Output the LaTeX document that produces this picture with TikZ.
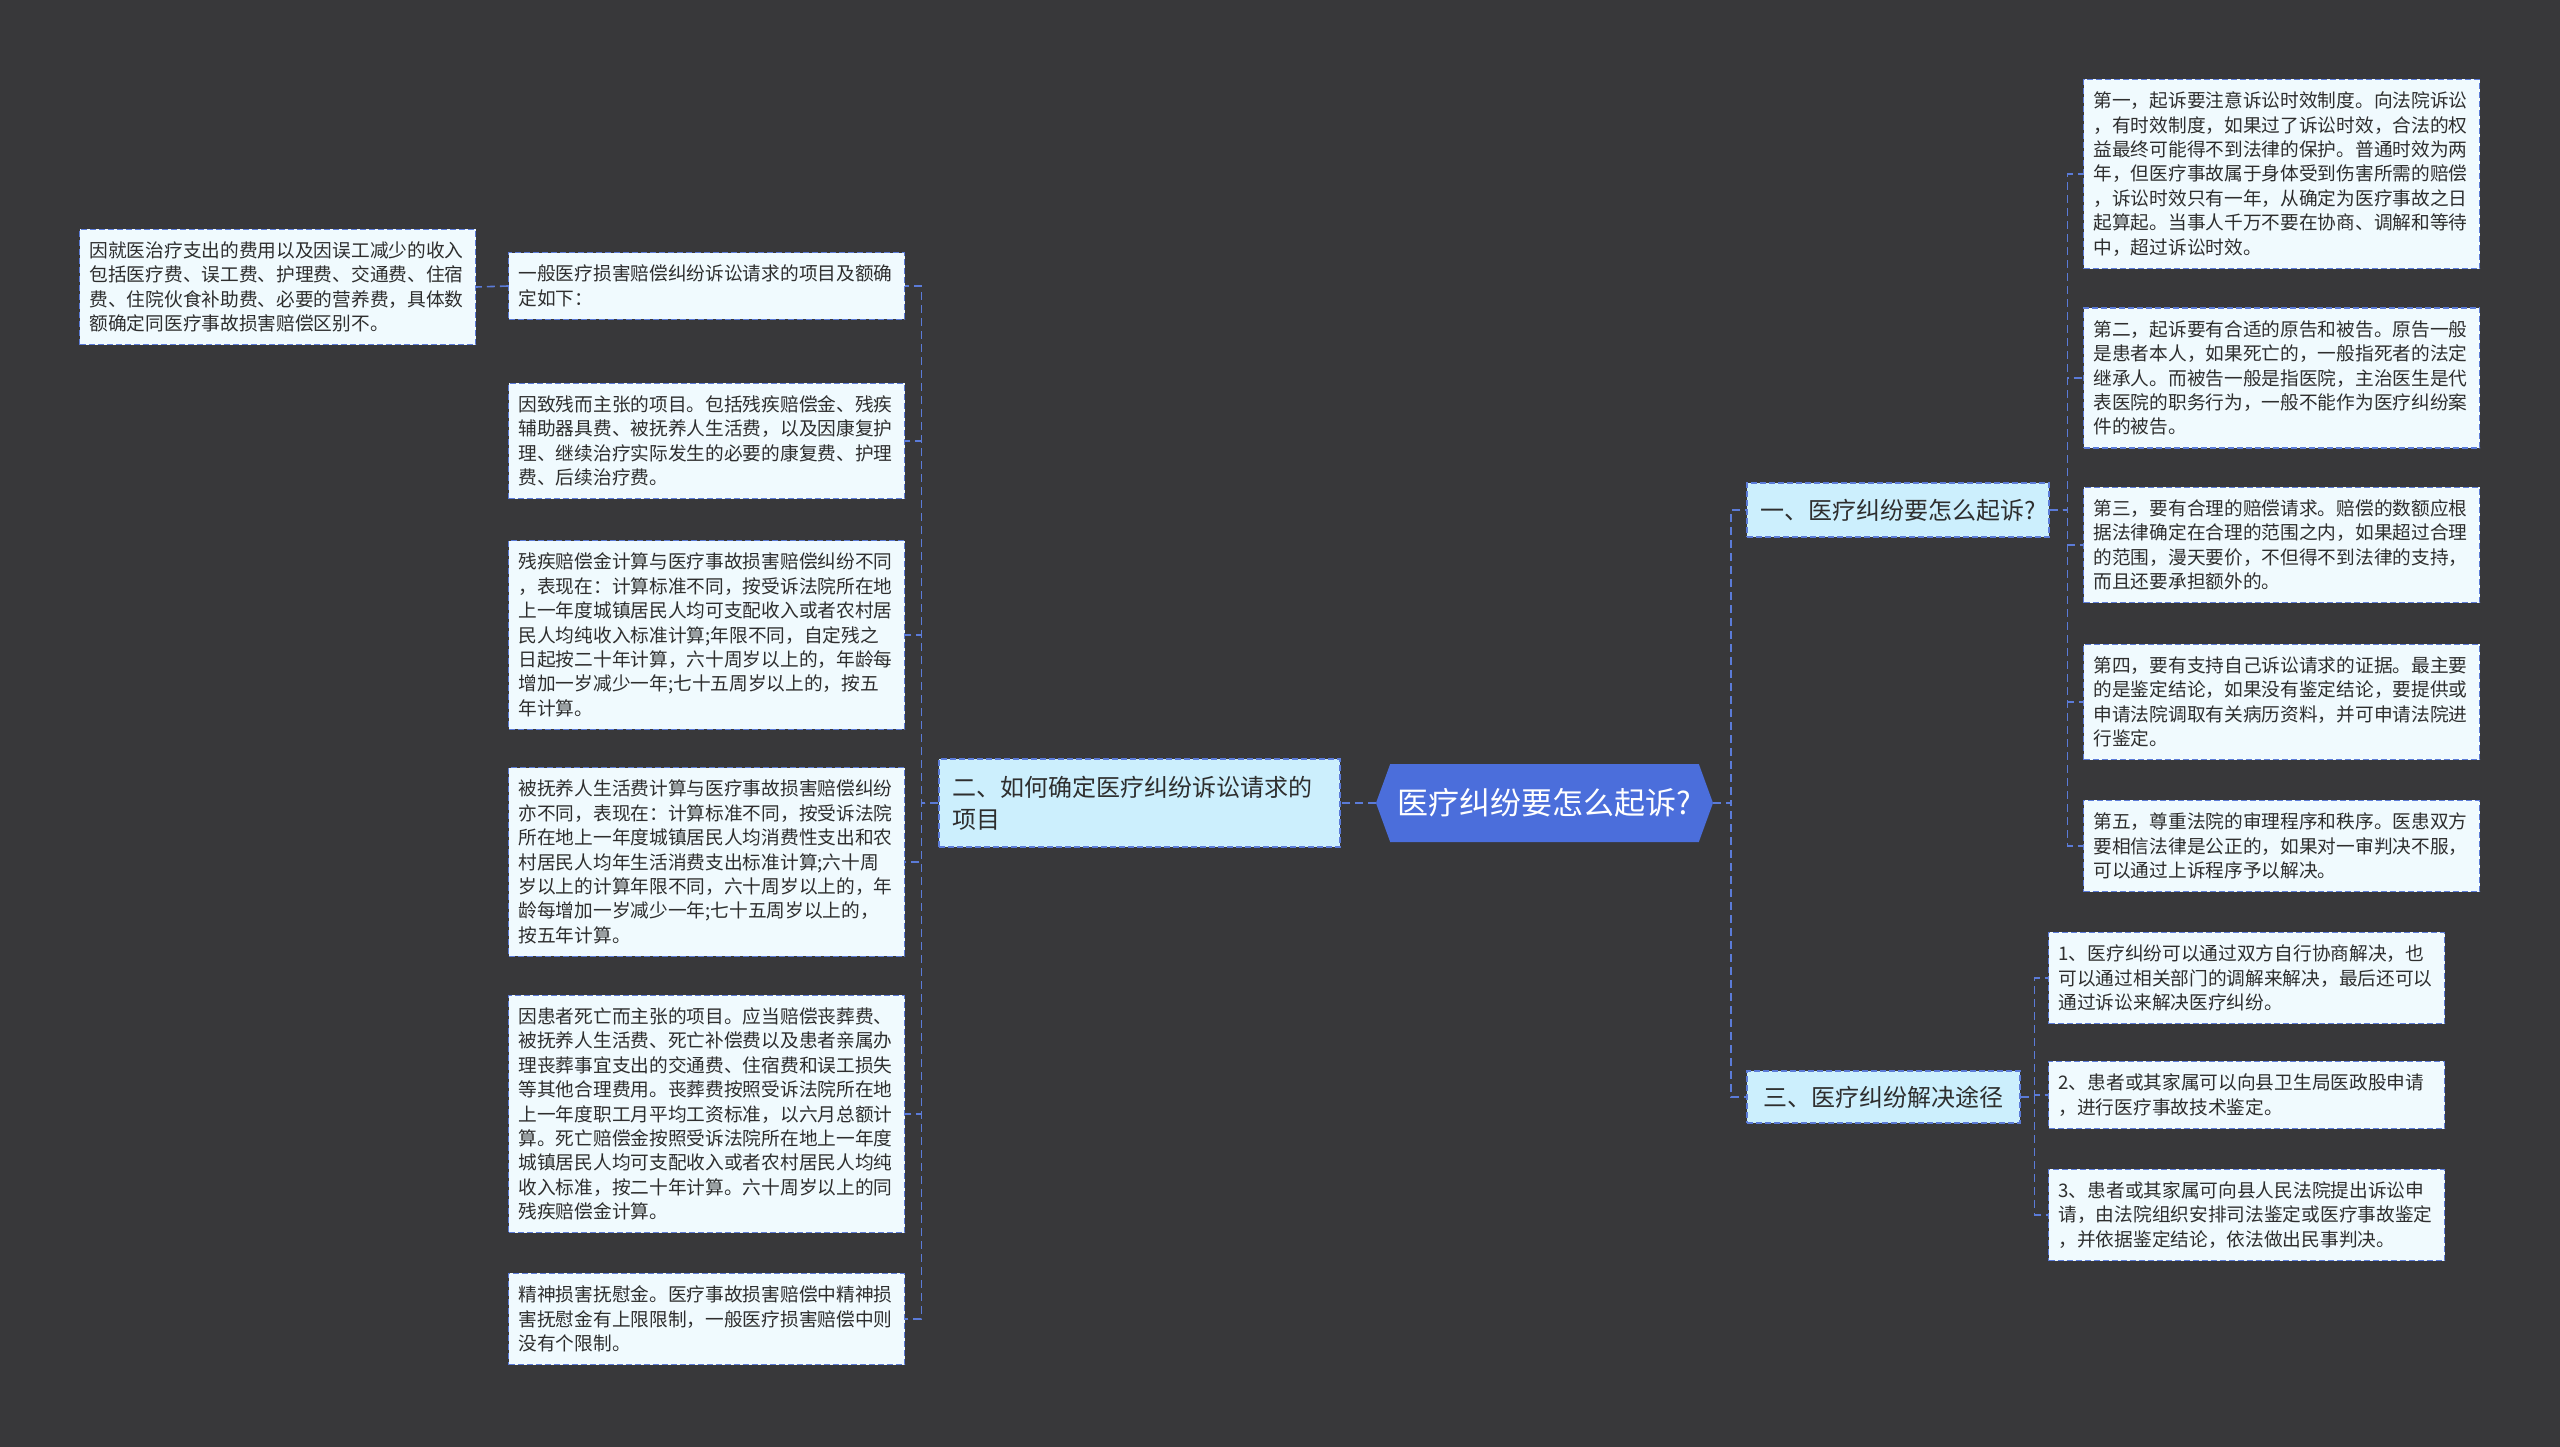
\documentclass[tikz,border=0pt]{standalone}
\usepackage{fontspec}
\setmainfont{Noto Sans CJK SC}
\usetikzlibrary{shapes.symbols}
\definecolor{bgdark}{HTML}{38383A}
\definecolor{linkblue}{HTML}{5B7BD8}
\definecolor{rootblue}{HTML}{4B6EDB}
\definecolor{topicfill}{HTML}{CCEFFD}
\definecolor{leaffill}{HTML}{F0FAFE}
\definecolor{inkgray}{HTML}{2E2E2E}

\begin{document}
\begin{tikzpicture}[x=1pt,y=-1pt,
	leaf/.style={draw=linkblue,dash pattern=on 6pt off 3pt,line width=1.2pt,fill=leaffill,text=inkgray,
		text width=376pt,align=left,inner xsep=10pt,inner ysep=12.5pt,font=\fontsize{18.7}{24.4}\selectfont},
	topic/.style={draw=linkblue,dash pattern=on 6pt off 3pt,line width=1.2pt,fill=topicfill,text=inkgray,
		inner xsep=13pt,font=\fontsize{24}{32}\selectfont},
	root/.style={signal,signal to=west and east,signal pointer angle=140,fill=rootblue,text=white,
		minimum width=337pt,minimum height=78pt,font=\fontsize{31}{36}\selectfont},
	link/.style={draw=linkblue,dash pattern=on 8pt off 5pt,line width=1.6pt}]
		\useasboundingbox (0,0) rectangle (2560,1447);
		\fill[bgdark] (0,0) rectangle (2560,1447);
		% centre
		\node[root] (root) at (1544.5,803) {医疗纠纷要怎么起诉?};
		\node[topic,text width=375pt,align=left,minimum height=88pt] (er) at (1139.5,803) {二、如何确定医疗纠纷诉讼请求的\\项目};
		\node[topic,minimum width=302pt,minimum height=54pt] (yi) at (1898,510) {一、医疗纠纷要怎么起诉?};
		\node[topic,minimum width=273pt,minimum height=52pt] (san) at (1883.5,1097) {三、医疗纠纷解决途径};
		% left branch
		\node[leaf] (l0) at (706.5,286) {一般医疗损害赔偿纠纷诉讼请求的项目及额确\\定如下：};
		\node[leaf] (f) at (277.5,287) {因就医治疗支出的费用以及因误工减少的收入\\包括医疗费、误工费、护理费、交通费、住宿\\费、住院伙食补助费、必要的营养费，具体数\\额确定同医疗事故损害赔偿区别不。};
		\node[leaf] (l1) at (706.5,441) {因致残而主张的项目。包括残疾赔偿金、残疾\\辅助器具费、被抚养人生活费，以及因康复护\\理、继续治疗实际发生的必要的康复费、护理\\费、后续治疗费。};
		\node[leaf] (l2) at (706.5,635) {残疾赔偿金计算与医疗事故损害赔偿纠纷不同\\，表现在：计算标准不同，按受诉法院所在地\\上一年度城镇居民人均可支配收入或者农村居\\民人均纯收入标准计算;年限不同，自定残之\\日起按二十年计算，六十周岁以上的，年龄每\\增加一岁减少一年;七十五周岁以上的，按五\\年计算。};
		\node[leaf] (l3) at (706.5,862) {被抚养人生活费计算与医疗事故损害赔偿纠纷\\亦不同，表现在：计算标准不同，按受诉法院\\所在地上一年度城镇居民人均消费性支出和农\\村居民人均年生活消费支出标准计算;六十周\\岁以上的计算年限不同，六十周岁以上的，年\\龄每增加一岁减少一年;七十五周岁以上的，\\按五年计算。};
		\node[leaf] (l4) at (706.5,1114) {因患者死亡而主张的项目。应当赔偿丧葬费、\\被抚养人生活费、死亡补偿费以及患者亲属办\\理丧葬事宜支出的交通费、住宿费和误工损失\\等其他合理费用。丧葬费按照受诉法院所在地\\上一年度职工月平均工资标准，以六月总额计\\算。死亡赔偿金按照受诉法院所在地上一年度\\城镇居民人均可支配收入或者农村居民人均纯\\收入标准，按二十年计算。六十周岁以上的同\\残疾赔偿金计算。};
		\node[leaf] (l5) at (706.5,1319) {精神损害抚慰金。医疗事故损害赔偿中精神损\\害抚慰金有上限限制，一般医疗损害赔偿中则\\没有个限制。};
		% right branch, part one
		\node[leaf] (r0) at (2281.5,174) {第一，起诉要注意诉讼时效制度。向法院诉讼\\，有时效制度，如果过了诉讼时效，合法的权\\益最终可能得不到法律的保护。普通时效为两\\年，但医疗事故属于身体受到伤害所需的赔偿\\，诉讼时效只有一年，从确定为医疗事故之日\\起算起。当事人千万不要在协商、调解和等待\\中，超过诉讼时效。};
		\node[leaf] (r1) at (2281.5,378) {第二，起诉要有合适的原告和被告。原告一般\\是患者本人，如果死亡的，一般指死者的法定\\继承人。而被告一般是指医院，主治医生是代\\表医院的职务行为，一般不能作为医疗纠纷案\\件的被告。};
		\node[leaf] (r2) at (2281.5,545) {第三，要有合理的赔偿请求。赔偿的数额应根\\据法律确定在合理的范围之内，如果超过合理\\的范围，漫天要价，不但得不到法律的支持，\\而且还要承担额外的。};
		\node[leaf] (r3) at (2281.5,702) {第四，要有支持自己诉讼请求的证据。最主要\\的是鉴定结论，如果没有鉴定结论，要提供或\\申请法院调取有关病历资料，并可申请法院进\\行鉴定。};
		\node[leaf] (r4) at (2281.5,846) {第五，尊重法院的审理程序和秩序。医患双方\\要相信法律是公正的，如果对一审判决不服，\\可以通过上诉程序予以解决。};
		% right branch, part three
		\node[leaf] (s0) at (2246.5,978) {1、医疗纠纷可以通过双方自行协商解决，也\\可以通过相关部门的调解来解决，最后还可以\\通过诉讼来解决医疗纠纷。};
		\node[leaf] (s1) at (2246.5,1095) {2、患者或其家属可以向县卫生局医政股申请\\，进行医疗事故技术鉴定。};
		\node[leaf] (s2) at (2246.5,1215) {3、患者或其家属可向县人民法院提出诉讼申\\请，由法院组织安排司法鉴定或医疗事故鉴定\\，并依据鉴定结论，依法做出民事判决。};
		% connectors
		\draw[link] (root.west) -- (er.east);
		\draw[link] (root.east) -- ++(18,0) |- (yi.west);
		\draw[link] (root.east) -- ++(18,0) |- (san.west);
		\foreach \n in {l0,l1,l2,l3,l4,l5}
			\draw[link] (er.west) -- ++(-17,0) |- (\n.east);
		\draw[link] (l0.west) -- (f.east);
		\foreach \n in {r0,r1,r2,r3,r4}
			\draw[link] (yi.east) -- ++(18,0) |- (\n.west);
		\foreach \n in {s0,s1,s2}
			\draw[link] (san.east) -- ++(14,0) |- (\n.west);
	\end{tikzpicture}
\end{document}
